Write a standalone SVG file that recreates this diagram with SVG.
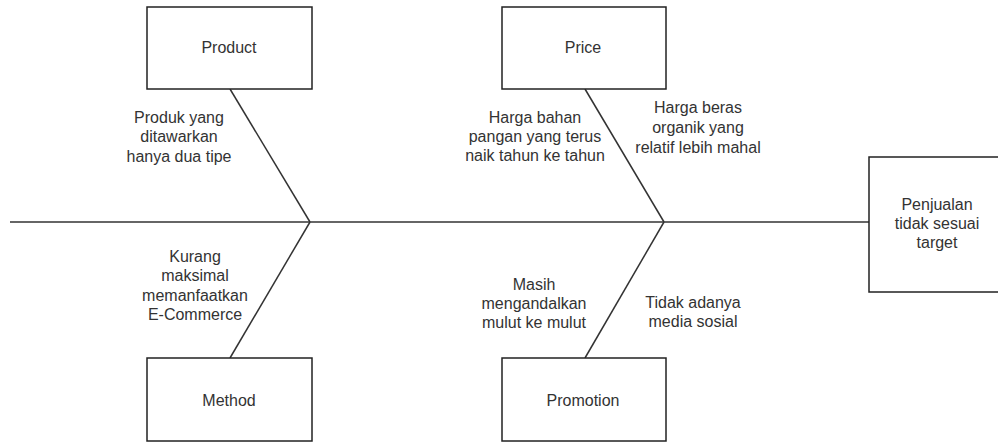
<svg xmlns="http://www.w3.org/2000/svg" width="998" height="442" viewBox="0 0 998 442">
<style>
.box{fill:#fff;stroke:#222;stroke-width:1.5}
.ln{stroke:#333;stroke-width:1.5;fill:none}
text{font-family:"Liberation Sans",Arial,sans-serif;font-size:16px;fill:#333;text-anchor:middle}
</style>
<rect width="998" height="442" fill="#fff"/>
<g id="connectors">
<line class="ln" x1="10" y1="222" x2="869" y2="222"/>
<line class="ln" x1="230" y1="89" x2="310" y2="222"/>
<line class="ln" x1="310" y1="222" x2="230" y2="358"/>
<line class="ln" x1="585" y1="89" x2="664" y2="222"/>
<line class="ln" x1="664" y1="222" x2="585" y2="358"/>
</g>
<g id="product"><rect class="box" x="147" y="7" width="165" height="82"/><text x="229" y="53">Product</text></g>
<g id="price"><rect class="box" x="502" y="7" width="164" height="82"/><text x="583" y="53">Price</text></g>
<g id="method"><rect class="box" x="147" y="358" width="165" height="83"/><text x="229" y="406">Method</text></g>
<g id="promotion"><rect class="box" x="502" y="358" width="164" height="83"/><text x="583" y="406">Promotion</text></g>
<g id="effect"><rect class="box" x="869" y="157" width="135" height="135"/>
<text x="937" y="210">Penjualan</text><text x="937" y="229">tidak sesuai</text><text x="937" y="248">target</text></g>
<g id="cause-product"><text x="179" y="123">Produk yang</text><text x="179" y="142">ditawarkan</text><text x="179" y="162">hanya dua tipe</text></g>
<g id="cause-price-1"><text x="535" y="123">Harga bahan</text><text x="535" y="142">pangan yang terus</text><text x="535" y="161">naik tahun ke tahun</text></g>
<g id="cause-price-2"><text x="698" y="113">Harga beras</text><text x="698" y="133">organik yang</text><text x="698" y="153">relatif lebih mahal</text></g>
<g id="cause-method"><text x="195" y="262">Kurang</text><text x="195" y="281">maksimal</text><text x="195" y="301">memanfaatkan</text><text x="195" y="320">E-Commerce</text></g>
<g id="cause-promo-1"><text x="534" y="290">Masih</text><text x="534" y="309">mengandalkan</text><text x="534" y="328">mulut ke mulut</text></g>
<g id="cause-promo-2"><text x="693" y="308">Tidak adanya</text><text x="693" y="327">media sosial</text></g>
</svg>
